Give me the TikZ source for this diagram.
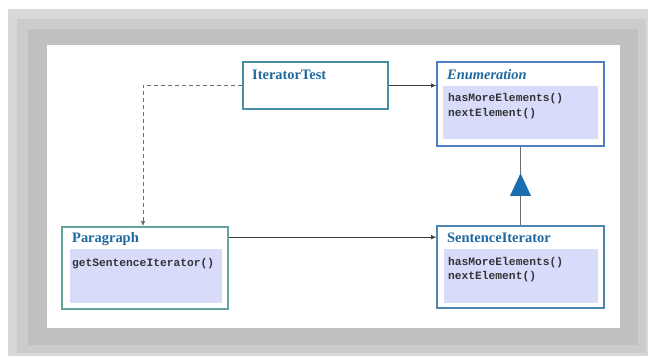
\documentclass[tikz,border=0pt]{standalone}
\usepackage{fontspec}
\setmainfont{Liberation Serif}
\setmonofont{Liberation Mono}
\usetikzlibrary{arrows.meta,calc}
\definecolor{frameA}{RGB}{216,216,216}
\definecolor{frameB}{RGB}{204,204,204}
\definecolor{frameC}{RGB}{192,192,192}
\definecolor{bdTeal}{RGB}{72,142,165}
\definecolor{bdGreen}{RGB}{100,165,160}
\definecolor{bdBlue}{RGB}{80,125,195}
\definecolor{bdMix}{RGB}{76,135,180}
\definecolor{lav}{RGB}{216,220,250}
\definecolor{titlec}{RGB}{30,105,160}
\definecolor{methc}{RGB}{50,50,55}
\definecolor{linec}{RGB}{60,60,60}
\definecolor{genc}{RGB}{110,110,110}
\definecolor{triblue}{RGB}{26,110,175}
\tikzset{
  cls/.style={draw, line width=1.6bp, fill=white, inner sep=0pt},
  inner/.style={fill=lav},
  title/.style={font=\fontsize{14.5}{16}\selectfont\bfseries, text=titlec, inner sep=0pt, anchor=base west},
  meth/.style={font=\fontsize{11.3}{13}\selectfont\ttfamily\bfseries, text=methc, inner sep=0pt, anchor=base west},
  assoc/.style={draw=linec, line width=0.8bp, -{Latex[length=5bp,width=4.5bp]}},
  dep/.style={draw=genc, line width=1bp, dash pattern=on 4bp off 3bp, -{Latex[length=5bp,width=4.5bp]}},
  gen/.style={draw=genc, line width=1.6bp}
}
\begin{document}
\begin{tikzpicture}[x=1bp,y=-1bp]
\useasboundingbox (0,0) rectangle (648,356);
\fill[white] (0,0) rectangle (648,356);
\fill[frameA] (8,9) rectangle (648,356);
\fill[frameB] (17,19) rectangle (646,353);
\fill[frameC] (28,29) rectangle (638,345);
\fill[white] (47,45) rectangle (620,328);

% classes
\node[cls, draw=bdTeal, minimum width=145bp, minimum height=47bp] (it) at (315.5,85.5) {};
\node[cls, draw=bdBlue, minimum width=167bp, minimum height=84bp] (enum) at (520.5,104) {};
\node[cls, draw=bdGreen, minimum width=166bp, minimum height=82bp] (par) at (145,268) {};
\node[cls, draw=bdMix, minimum width=167bp, minimum height=82bp] (sent) at (520.5,267) {};

% compartments
\fill[inner] ($(enum.north west)+(7,25)$) rectangle ($(enum.south east)+(-7,-8)$);
\fill[inner] ($(par.north west)+(9,23)$) rectangle ($(par.south east)+(-7,-7)$);
\fill[inner] ($(sent.north west)+(8,24)$) rectangle ($(sent.south east)+(-7,-6)$);

% titles
\node[title] (itT) at (252,79) {IteratorTest};
\node[title, font=\fontsize{14.5}{16}\selectfont\bfseries\itshape] (enumT) at (447,79) {Enumeration};
\node[title] (parT) at (72,242) {Paragraph};
\node[title] (sentT) at (447,242) {SentenceIterator};

% methods
\node[meth] (enumM1) at (448,101) {hasMoreElements()};
\node[meth] (enumM2) at (448,116) {nextElement()};
\node[meth] (parM1) at (72,266) {getSentenceIterator()};
\node[meth] (sentM1) at (448,265) {hasMoreElements()};
\node[meth] (sentM2) at (448,279) {nextElement()};

% connectors
\draw[assoc] (it.east) -- (it.east -| enum.west);
\draw[assoc] ([yshift=-11bp]par.north east) -- ([yshift=-11bp]par.north east -| sent.west);
\draw[dep] (it.west) -| ([xshift=-2bp]par.north);
\draw[gen] (enum.south) -- (sent.north);
\coordinate (apex) at ($(enum.south)!0.3375!(sent.north)$);
\coordinate (basec) at ($(enum.south)!0.625!(sent.north)$);
\fill[triblue] (apex) -- ([xshift=-10.5bp]basec) -- ([xshift=10.5bp]basec) -- cycle;
\end{tikzpicture}
\end{document}
